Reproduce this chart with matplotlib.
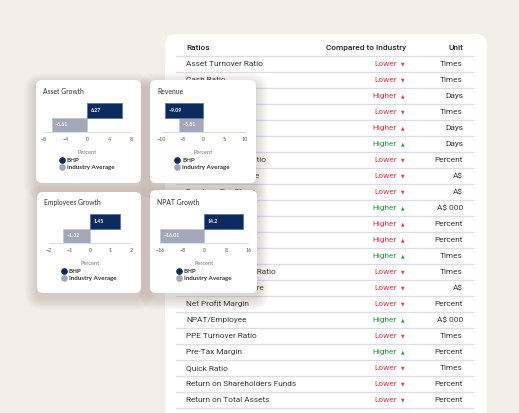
import matplotlib
matplotlib.use("Agg")
import matplotlib.pyplot as plt
from matplotlib.patches import FancyBboxPatch
from matplotlib.lines import Line2D

# ---------------- data ----------------
ratio_names = ["Asset Turnover Ratio", "Cash Ratio", "Creditor Days", "Current Ratio",
               "Debtor Days", "Days Inventory", "Dividend Payout Ratio", "Dividends Per Share",
               "Earnings Per Share", "EBITDA", "EBITDA Margin", "Effective Tax Rate",
               "Interest Cover", "Inventory Turnover Ratio", "Net Assets Per Share",
               "Net Profit Margin", "NPAT/Employee", "PPE Turnover Ratio", "Pre-Tax Margin",
               "Quick Ratio", "Return on Shareholders Funds", "Return on Total Assets"]
ratio_direction = ["Lower", "Lower", "Higher", "Lower", "Higher", "Higher", "Lower", "Lower",
                   "Lower", "Higher", "Higher", "Higher", "Higher", "Lower", "Lower",
                   "Lower", "Higher", "Lower", "Higher", "Lower", "Lower", "Lower"]
ratio_good = [False, False, False, False, False, True, False, False,
              False, True, False, False, True, False, False,
              False, True, False, True, False, False, False]
ratio_units = ["Times", "Times", "Days", "Times", "Days", "Days", "Percent", "A$",
               "A$", "A$ 000", "Percent", "Percent", "Times", "Times", "A$",
               "Percent", "A$ 000", "Times", "Percent", "Times", "Percent", "Percent"]
table_headers = ["Ratios", "Compared to Industry", "Unit"]

chart_titles = ["Asset Growth", "Revenue", "Employees Growth", "NPAT Growth"]
series_names = ["BHP", "Industry Average"]
bhp_values = [6.27, -9.09, 1.45, 14.2]
industry_values = [-6.61, -5.81, -1.32, -16.01]
chart_ticks = [[-8, -4, 0, 4, 8], [-10, -5, 0, 5, 10], [-2, -1, 0, 1, 2], [-16, -8, 0, 8, 16]]
axis_label = "Percent"

# ---------------- style ----------------
W, H = 519, 413
BG = "#f4eee9"
NAVY = "#0b2b5f"
GREY = "#a3a7b7"
RED = "#e8354c"
GREEN = "#2f9a3e"
TXT = "#3a3a3a"
LINE = "#dcdcf0"

fig = plt.figure(figsize=(W / 100, H / 100), dpi=100, facecolor=BG)
bg = fig.add_axes([0, 0, 1, 1])
bg.set_xlim(0, W)
bg.set_ylim(H, 0)
bg.axis("off")
bg.set_facecolor(BG)

TF = "Roboto"
CF = "Lato"
FS = 5.95

# table card
bg.add_patch(FancyBboxPatch((165, 34), 322, 420, boxstyle="round,pad=0,rounding_size=12",
                            fc="white", ec="none", zorder=1))
bg.text(186, 48, table_headers[0], fontsize=FS, family=TF, weight="medium", color="#222",
        va="center", ha="left", zorder=2)
bg.text(406, 48, table_headers[1], fontsize=FS, family=TF, weight="medium", color="#222",
        va="center", ha="right", zorder=2)
bg.text(463, 48, table_headers[2], fontsize=FS, family=TF, weight="medium", color="#222",
        va="center", ha="right", zorder=2)
bg.plot([176, 473], [55.5, 55.5], color=LINE, lw=0.9, zorder=2)
for i, (name, d, good, unit) in enumerate(zip(ratio_names, ratio_direction, ratio_good, ratio_units)):
    y = 64 + 16 * i
    c = GREEN if good else RED
    bg.text(186, y, name, fontsize=FS, family=TF, color=TXT, va="center", ha="left", zorder=2)
    bg.text(397, y, d, fontsize=FS, family=TF, color=c, va="center", ha="right", zorder=2)
    bg.text(403, y + 0.3, "\u25B2" if d == "Higher" else "\u25BC", fontsize=3.3, family="DejaVu Sans",
            color=c, va="center", ha="center", zorder=2)
    bg.text(463, y, unit, fontsize=FS, family=TF, color=TXT, va="center", ha="right", zorder=2)
    bg.plot([176, 473], [y + 8, y + 8], color=LINE, lw=0.9, zorder=2)

# chart cards
cards = [(36, 80, 105, 103), (150, 80, 106, 103), (37, 192, 104, 101), (150, 190, 107, 103)]
axes_px = [(44, 131, 103, 132), (161.7, 245, 103, 132), (49, 131, 214, 243.3), (160.3, 248.3, 214, 243.3)]
title_px = [(43, 91), (157.7, 91), (44.5, 202.5), (157.3, 202.5)]
legend_px = [(61.7, 160), (177.3, 160), (64, 271.3), (179, 271.3)]

for k, (cx, cy, cw, ch) in enumerate(cards):
    for s in range(12, 0, -1):
        bg.add_patch(FancyBboxPatch((cx - s, cy - s + 5), cw + 2 * s, ch + 2 * s,
                                    boxstyle="round,pad=0,rounding_size=%g" % (6 + s),
                                    fc="#7a6050", ec="none", alpha=0.02, zorder=3))
    bg.add_patch(FancyBboxPatch((cx, cy), cw, ch, boxstyle="round,pad=0,rounding_size=6",
                                fc="white", ec="none", zorder=4))
    tx, ty = title_px[k]
    bg.text(tx, ty, chart_titles[k], fontsize=4.9, family=CF, color="#333", va="center",
            ha="left", zorder=5)

for k in range(4):
    x0, x1, yt, yb = axes_px[k]
    ax = fig.add_axes([x0 / W, 1 - yb / H, (x1 - x0) / W, (yb - yt) / H], zorder=10)
    ax.patch.set_alpha(0)
    vals = [industry_values[k], bhp_values[k]]
    cols = [GREY, NAVY]
    edges = ["#c4c8d4", "#5a76a0"]
    ax.barh([0, 1], vals, height=1.0, color=cols, edgecolor=edges, linewidth=0.6)
    for yy, v in zip([0, 1], vals):
        ax.annotate(f"{v:g}".replace("-", "\u2212"), xy=(min(v, 0), yy), xytext=(2.5, 0),
                    textcoords="offset points", fontsize=3.7, family=CF, weight="bold",
                    color="white", va="center", ha="left")
    t = chart_ticks[k]
    ax.set_xlim(t[0], t[-1])
    ax.set_ylim(-0.5, 1.5)
    ax.set_xticks(t)
    ax.set_xticklabels([str(v).replace("-", "\u2212") for v in t], fontsize=3.9, family=CF,
                       color="#555")
    ax.tick_params(axis="x", length=0, pad=3.5)
    ax.set_yticks([])
    for sp in ["top", "left", "right"]:
        ax.spines[sp].set_visible(False)
    ax.spines["bottom"].set_color(LINE)
    ax.spines["bottom"].set_linewidth(0.8)
    ax.set_xlabel(axis_label, fontsize=4.1, family=CF, color="#777", labelpad=6)
    handles = [Line2D([], [], ls="none", marker="o", ms=3.8, color=c) for c in [NAVY, GREY]]
    lx, ly = legend_px[k]
    leg = ax.legend(handles, series_names, loc="center left",
                    bbox_to_anchor=(lx - 3, ly + 3.8), bbox_transform=bg.transData,
                    frameon=False, borderpad=0, borderaxespad=0, handlelength=0.9,
                    handletextpad=0.35, labelspacing=0.22,
                    prop={"family": CF, "weight": "bold", "size": 4.5})
    for txt in leg.get_texts():
        txt.set_color("#333")

fig.savefig("out.png", dpi=100, facecolor=BG)
